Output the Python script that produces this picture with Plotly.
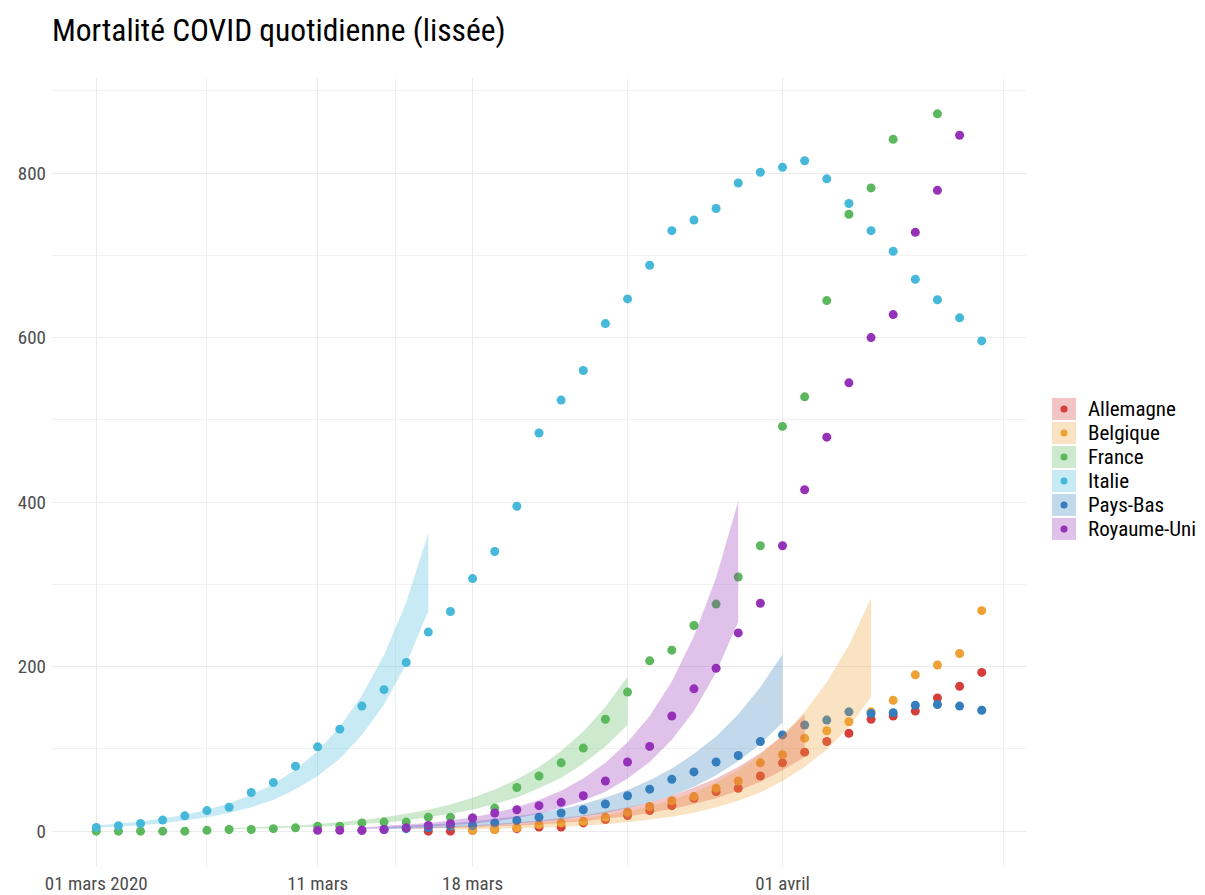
import pandas as pd
import plotly.graph_objects as go

FONT = "Roboto Condensed, Roboto, sans-serif"

dates = pd.date_range("2020-03-01", "2020-04-10").strftime("%Y-%m-%d").tolist()
N = None

countries = ["Allemagne", "Belgique", "France", "Italie", "Pays-Bas", "Royaume-Uni"]
colors = ["#D43F3A", "#EEA236", "#5CB85C", "#46B8DA", "#357EBD", "#9632B8"]
fills = ["rgba(212,63,58,0.3)", "rgba(238,162,54,0.3)", "rgba(92,184,92,0.3)",
         "rgba(70,184,218,0.3)", "rgba(53,126,189,0.3)", "rgba(150,50,184,0.3)"]

# daily smoothed deaths, 2020-03-01 .. 2020-04-10
allemagne = [N]*10 + [N, N, N, N, N, 0, 0, 1, 2, 3] + \
    [5, 5, 10, 14, 19, 25, 31, 40, 48, 52, 67] + \
    [83, 96, 109, 119, 136, 140, 146, 162, 176, 193]
belgique = [N]*10 + [N, N, N, N, N, N, N, 1, 2, 4] + \
    [8, 10, 12, 17, 23, 30, 37, 42, 52, 61, 83] + \
    [93, 113, 122, 133, 145, 159, 190, 202, 216, 268]
france = [0, 0, 0, 0, 0, 1, 2, 2, 3, 4] + [6, 6, 10, 11, 11, 17, 17, 16, 28, 53] + \
    [67, 83, 101, 136, 169, 207, 220, 250, 276, 309, 347] + \
    [492, 528, 645, 750, 782, 841, N, 872, N, N]
italie = [4.5, 6.5, 9.3, 13.4, 18.6, 25, 29, 47, 59, 79] + \
    [102.5, 124, 152, 172, 205, 242, 267, 307, 340, 395] + \
    [484, 524, 560, 617, 647, 688, 730, 743, 757, 788, 801] + \
    [807, 815, 793, 763, 730, 705, 671, 646, 624, 596]
pays_bas = [N]*10 + [N, N, 1, 2, 3, 4, 6, 7, 10, 13] + \
    [17, 22, 26, 33, 43, 51, 63, 72, 84, 92, 109] + \
    [117, 129, 135, 145, 143, 144, 153, 154, 152, 147]
royaume_uni = [N]*10 + [1, 1, 1, 2, 4, 7, 9, 16, 22, 26] + \
    [31, 35, 43, 61, 84, 103, 140, 173, 198, 241, 277] + \
    [347, 415, 479, 545, 600, 628, 728, 779, 846, N]
series = [allemagne, belgique, france, italie, pays_bas, royaume_uni]

# exponential-fit bands (start date, lower, upper)
rib_start = ["2020-03-15", "2020-03-17", "2020-03-07", "2020-03-01", "2020-03-14", "2020-03-13"]
rib_low = [
    [2.5, 3, 3.7, 4.5, 5.5, 6.7, 8.2, 10, 12, 15, 18, 22, 27, 33, 40, 49, 60, 74, 90],
    [1.5, 1.9, 2.4, 3.1, 4, 5.1, 6.5, 8.4, 10.7, 13.7, 17.6, 22.5, 29, 37, 47, 61, 78, 99, 127, 163],
    [2.1, 2.7, 3.4, 4.2, 5.3, 6.7, 8.4, 10.5, 13, 17, 21, 26, 33, 41, 52, 65, 82, 103, 129],
    [4.2, 5.6, 7.3, 9.7, 12.8, 17, 22, 29, 38, 51, 67, 88, 117, 154, 203, 268],
    [2.4, 3, 3.8, 4.7, 5.9, 7.4, 9.2, 11.5, 14, 18, 22, 28, 35, 43, 54, 68, 85, 106, 132],
    [2.3, 3, 4, 5.3, 7, 9, 12, 16, 21, 28, 37, 48, 64, 84, 111, 146, 193, 255],
]
rib_up = [
    [3.9, 4.8, 5.8, 7.1, 8.7, 10.6, 13, 16, 19, 24, 29, 35, 43, 53, 64, 78, 95, 116, 142],
    [4.1, 5.1, 6.4, 8, 10, 12.5, 15.6, 19.5, 24, 30, 38, 47, 59, 74, 93, 116, 145, 181, 226, 283],
    [3.6, 4.5, 5.6, 7, 8.8, 11, 13.5, 17, 21, 26, 32.5, 40.5, 50.5, 63, 78, 97.5, 121, 151, 188],
    [7, 9.1, 11.8, 15.4, 20, 26, 34, 44, 57, 75, 97, 127, 165, 214, 278, 362],
    [5.1, 6.3, 7.8, 9.6, 11.8, 14.5, 18, 22, 27, 33, 41, 50, 62, 76, 94, 115, 142, 175, 215],
    [4.6, 6, 8, 10, 13, 17, 22, 29, 38, 49, 64, 83, 108, 140, 182, 237, 308, 401],
]

x_major = ["2020-03-01", "2020-03-11", "2020-03-18", "2020-04-01"]
x_major_text = ["01 mars 2020", "11 mars", "18 mars", "01 avril"]
x_minor = ["2020-03-06", "2020-03-14 12:00", "2020-03-25", "2020-04-11"]
y_major = [0, 200, 400, 600, 800]
y_minor = [100, 300, 500, 700, 900]

fig = go.Figure()

for name, col, vals in zip(countries, colors, series):
    fig.add_trace(go.Scatter(x=dates, y=vals, mode="markers", name=name,
                             marker=dict(color=col, size=9, line=dict(width=0)),
                             showlegend=False))

for name, fc, st, lo, up in zip(countries, fills, rib_start, rib_low, rib_up):
    rd = pd.date_range(st, periods=len(lo)).strftime("%Y-%m-%d").tolist()
    fig.add_trace(go.Scatter(x=rd, y=lo, mode="lines", line=dict(width=0),
                             showlegend=False, hoverinfo="skip"))
    fig.add_trace(go.Scatter(x=rd, y=up, mode="lines", line=dict(width=0),
                             fill="tonexty", fillcolor=fc, showlegend=False,
                             hoverinfo="skip"))

# legend (drawn as layout decorations)
leg_top = 0.5805
step = 0.0304
for i, (name, col, fc) in enumerate(zip(countries, colors, fills)):
    yc = leg_top - i * step
    fig.add_shape(type="rect", xref="paper", yref="paper", xsizemode="pixel",
                  ysizemode="pixel", xanchor=1.0267, yanchor=yc,
                  x0=0, x1=24, y0=-11, y1=11, fillcolor=fc, line=dict(width=0))
    fig.add_shape(type="circle", xref="paper", yref="paper", xsizemode="pixel",
                  ysizemode="pixel", xanchor=1.0267, yanchor=yc,
                  x0=8.5, x1=15.5, y0=-3.5, y1=3.5, fillcolor=col, line=dict(width=0))
    fig.add_annotation(x=1.0617, y=yc, xref="paper", yref="paper", text=name,
                       showarrow=False, xanchor="left", yanchor="middle",
                       font=dict(family=FONT, size=21, color="#000000"))

W, H = 1197, 887  # page body adds an 8px margin
fig.update_layout(
    width=W, height=H,
    margin=dict(l=44, r=179, t=70, b=28),
    plot_bgcolor="white", paper_bgcolor="white",
    font=dict(family=FONT, size=19, color="#4D4D4D"),
    title=dict(text="Mortalité COVID quotidienne (lissée)", x=44 / W, xref="container",
               xanchor="left", y=1 - 22 / H, yanchor="middle",
               font=dict(family=FONT, size=31.5, color="#000000")),
    showlegend=False,
    xaxis=dict(type="date", range=["2020-02-28", "2020-04-12"], tickmode="array",
               tickvals=x_major, ticktext=x_major_text, showgrid=True, automargin=False,
               gridcolor="#EBEBEB", gridwidth=1.2, zeroline=False, showline=False,
               ticks="", ticklabelstandoff=3, tickfont=dict(size=19, color="#4D4D4D"),
               minor=dict(tickvals=x_minor, showgrid=True, gridcolor="#F2F2F2",
                          gridwidth=1, ticks="")),
    yaxis=dict(range=[-43.6, 915.6], tickmode="array", tickvals=y_major, automargin=False,
               showgrid=True, gridcolor="#EBEBEB", gridwidth=1.2, zeroline=False,
               showline=False, ticks="", ticklabelstandoff=5,
               tickfont=dict(size=19, color="#4D4D4D"),
               minor=dict(tickvals=y_minor, showgrid=True, gridcolor="#F2F2F2",
                          gridwidth=1, ticks="")),
)

fig.write_html("out.html")
